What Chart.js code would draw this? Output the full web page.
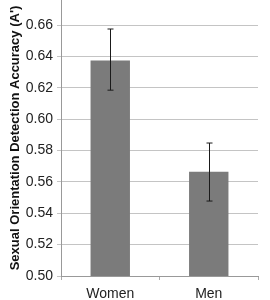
<!DOCTYPE html>
<html><head><meta charset="utf-8">
<script src="https://cdn.jsdelivr.net/npm/chart.js@4"></script>
<style>html,body{margin:0;padding:0;background:#fff}#wrap{width:270px;height:300px}</style>
</head><body><div id="wrap"><canvas id="c" width="270" height="300"></canvas></div>
<script>
const categories = ["Women", "Men"];
const values = [0.6375, 0.5665];
const errLow = [0.6185, 0.5478];
const errHigh = [0.6575, 0.5848];
const yTitle = "Sexual Orientation Detection Accuracy (A')";

const errorBars = {
  id: 'errorBars',
  afterDatasetsDraw(chart) {
    const ctx = chart.ctx, x = chart.scales.x, y = chart.scales.y;
    ctx.save();
    ctx.strokeStyle = '#1a1a1a';
    ctx.lineWidth = 1;
    categories.forEach((c, i) => {
      const px = Math.round(x.getPixelForValue(i)) + 0.5;
      const yl = y.getPixelForValue(errLow[i]);
      const yh = y.getPixelForValue(errHigh[i]);
      ctx.beginPath();
      ctx.moveTo(px, yh); ctx.lineTo(px, yl);
      ctx.moveTo(px - 3, yh); ctx.lineTo(px + 3, yh);
      ctx.moveTo(px - 3, yl); ctx.lineTo(px + 3, yl);
      ctx.stroke();
    });
    ctx.restore();
  }
};

new Chart(document.getElementById('c'), {
  type: 'bar',
  data: { labels: categories, datasets: [{ data: values, backgroundColor: '#7b7b7b', borderWidth: 0, barPercentage: 0.4, categoryPercentage: 1 }] },
  options: {
    responsive: false, animation: false, devicePixelRatio: 1,
    layout: { padding: { left: 8, right: 12, top: 0, bottom: 0 } },
    plugins: { legend: { display: false }, tooltip: { enabled: false } },
    scales: {
      x: {
        grid: { display: true, drawOnChartArea: false, offset: true, color: '#aaaaaa', tickLength: 4 },
        border: { color: '#999999' },
        ticks: { color: '#222', font: { family: 'Liberation Sans, Arial, sans-serif', size: 14 }, padding: 6 },
        afterFit(s) { s.height = 24; }
      },
      y: {
        min: 0.5, max: 0.676,
        grid: { color: '#c4c4c4', tickLength: 4 },
        border: { color: '#999999' },
        ticks: { stepSize: 0.02, includeBounds: false, color: '#222', font: { family: 'Liberation Sans, Arial, sans-serif', size: 14 }, padding: 4,
          callback: v => v.toFixed(2) },
        title: { display: true, text: yTitle, color: '#111', font: { family: 'Liberation Sans, Arial, sans-serif', size: 13, weight: 'bold' }, padding: { top: 0, bottom: 2 } },
        afterFit(s) { s.width = 53; s.paddingTop = 0; s.paddingBottom = 0; }
      }
    }
  },
  plugins: [errorBars]
});
</script></body></html>
